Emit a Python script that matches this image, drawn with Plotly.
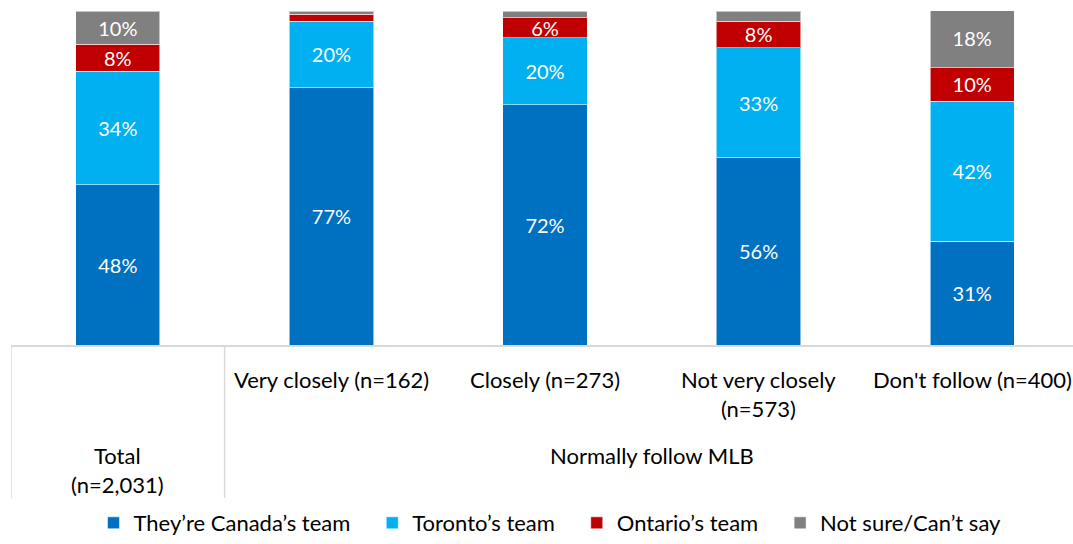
import plotly.graph_objects as go

categories = ["Total (n=2,031)", "Very closely (n=162)", "Closely (n=273)",
              "Not very closely (n=573)", "Don't follow (n=400)"]
canada = [48, 77, 72, 56, 31]
toronto = [34, 20, 20, 33, 42]
ontario = [8, 2, 6, 8, 10]
not_sure = [10, 1, 2, 3, 18]

series = [
    ("They\u2019re Canada\u2019s team", canada, "#0070C0"),
    ("Toronto\u2019s team", toronto, "#00B0F0"),
    ("Ontario\u2019s team", ontario, "#C00000"),
    ("Not sure/Can\u2019t say", not_sure, "#808080"),
]

FONT = "Lato"
fig = go.Figure()
for name, vals, color in series:
    fig.add_trace(go.Bar(
        x=categories, y=vals, name=name + "\u00a0\u00a0\u00a0",
        marker=dict(color=color, line=dict(color="rgba(255,255,255,0.55)", width=1)),
        text=[f"{v}%" if v >= 5 else "" for v in vals],
        textposition="inside", insidetextanchor="middle", textangle=0,
        constraintext="none",
        textfont=dict(color="white", size=20, family=FONT),
        hoverinfo="skip",
    ))

W, H = 1073, 544
L, T, B = 11, 11, 345
PH = B - T
CAT = 213.6


def py(p):
    return (B - p) / PH


fig.update_layout(
    width=W, height=H, barmode="stack", bargap=0.605,
    margin=dict(l=L, r=0, t=T, b=H - B, autoexpand=False),
    plot_bgcolor="white", paper_bgcolor="white",
    font=dict(family=FONT, size=22, color="#000000"),
    showlegend=True,
    legend=dict(orientation="h", x=(558 - L) / (W - L), xanchor="center",
                yref="container", y=-0.015, yanchor="bottom",
                font=dict(size=22, family=FONT), traceorder="normal"),
    xaxis=dict(showticklabels=False, ticks="", showgrid=False, showline=True,
               linecolor="#D9D9D9", linewidth=1.5,
               range=[-0.5, -0.5 + (W - L) / CAT]),
    yaxis=dict(range=[0, 100], visible=False),
)

# sub-category labels
sub = ["", "Very closely (n=162)", "Closely (n=273)", "Not very closely<br>(n=573)",
       "Don't follow (n=400)"]
for i, s in enumerate(sub):
    if s:
        fig.add_annotation(x=categories[i], y=py(364), xref="x", yref="paper",
                           text=s, showarrow=False, yanchor="top", xanchor="center",
                           font=dict(size=22, family=FONT))

fig.add_annotation(x=categories[0], y=py(440), xref="x", yref="paper",
                   text="Total<br>(n=2,031)", showarrow=False, yanchor="top",
                   font=dict(size=22, family=FONT))
fig.add_annotation(x=2.5, y=py(440), xref="x", yref="paper",
                   text="Normally follow MLB", showarrow=False, yanchor="top",
                   font=dict(size=22, family=FONT))

# dividers
for xv in [-0.5, 0.5]:
    fig.add_shape(type="line", xref="x", yref="paper", x0=xv, x1=xv,
                  y0=py(345), y1=py(498), line=dict(color="#D9D9D9", width=1.5))

fig.write_html("out.html", config={"displayModeBar": False},
               post_script="document.body.style.margin='0';document.body.style.overflow='hidden';")
